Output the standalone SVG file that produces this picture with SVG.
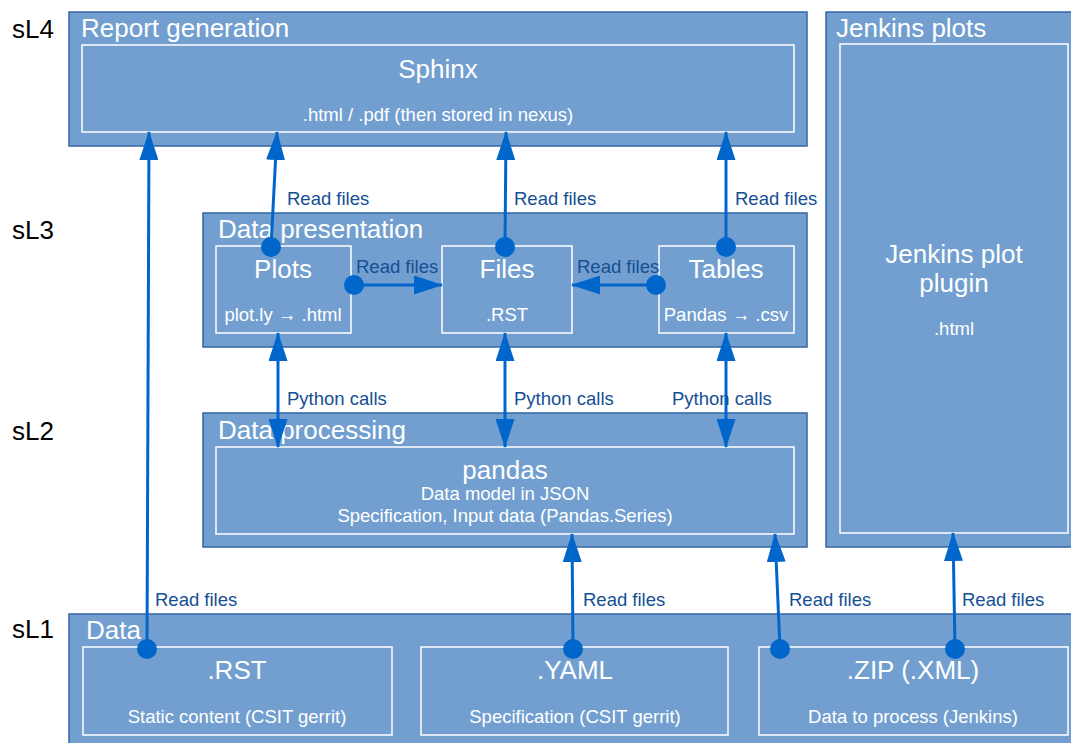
<svg xmlns="http://www.w3.org/2000/svg" width="1071" height="743" viewBox="0 0 1071 743">
<defs>
<style>
.layer{fill:#729fcf;stroke:#3465a4;stroke-width:1.5}
.inner{fill:none;stroke:#ffffff;stroke-width:1.5}
.lt{font-family:"Liberation Sans",Arial,sans-serif;font-size:26px;fill:#ffffff}
.big{font-family:"Liberation Sans",Arial,sans-serif;font-size:26px;fill:#ffffff;text-anchor:middle}
.sm{font-family:"Liberation Sans",Arial,sans-serif;font-size:18.5px;fill:#ffffff;text-anchor:middle}
.side{font-family:"Liberation Sans",Arial,sans-serif;font-size:26px;fill:#000000}
.cl{font-family:"Liberation Sans",Arial,sans-serif;font-size:18.5px;fill:#154f94}
.con{stroke:#0066cc;stroke-width:3;fill:none}
.dot{fill:#0066cc}
</style>
<marker id="ah" markerWidth="29" markerHeight="19" refX="28" refY="9.5" orient="auto" markerUnits="userSpaceOnUse" viewBox="0 0 29 19">
<path d="M0,0 L29,9.5 L0,19 Z" fill="#0066cc"/>
</marker>
<marker id="as" markerWidth="29" markerHeight="19" refX="1" refY="9.5" orient="auto" markerUnits="userSpaceOnUse" viewBox="0 0 29 19">
<path d="M29,0 L0,9.5 L29,19 Z" fill="#0066cc"/>
</marker>
</defs>

<text class="side" x="12" y="38">sL4</text>
<text class="side" x="12" y="239">sL3</text>
<text class="side" x="12" y="440">sL2</text>
<text class="side" x="12" y="638">sL1</text>

<g id="report-generation">
<rect class="layer" x="69" y="12" width="738" height="134"/>
<text class="lt" x="81" y="37">Report generation</text>
</g>
<g id="sphinx">
<rect class="inner" x="82" y="45" width="712" height="87"/>
<text class="big" x="438" y="78">Sphinx</text>
<text class="sm" x="438" y="121">.html / .pdf (then stored in nexus)</text>
</g>

<g id="jenkins-plots">
<rect class="layer" x="826" y="12" width="250" height="535"/>
<text class="lt" x="836" y="37">Jenkins plots</text>
</g>
<g id="jenkins-plot-plugin">
<rect class="inner" x="840" y="44" width="228" height="489"/>
<text class="big" x="954" y="263">Jenkins plot</text>
<text class="big" x="954" y="292">plugin</text>
<text class="sm" x="954" y="335">.html</text>
</g>

<g id="data-presentation">
<rect class="layer" x="203" y="213" width="604" height="134"/>
<text class="lt" x="218" y="238">Data presentation</text>
</g>
<g id="plots">
<rect class="inner" x="216" y="246" width="135" height="87"/>
<text class="big" x="283" y="278">Plots</text>
<text class="sm" x="283" y="321">plot.ly → .html</text>
</g>
<g id="files">
<rect class="inner" x="442" y="246" width="130" height="87"/>
<text class="big" x="507" y="278">Files</text>
<text class="sm" x="507" y="321">.RST</text>
</g>
<g id="tables">
<rect class="inner" x="659" y="246" width="135" height="87"/>
<text class="big" x="726" y="278">Tables</text>
<text class="sm" x="726" y="321">Pandas → .csv</text>
</g>

<g id="data-processing">
<rect class="layer" x="203" y="413" width="604" height="134"/>
<text class="lt" x="218" y="439">Data processing</text>
</g>
<g id="pandas">
<rect class="inner" x="216" y="447" width="578" height="87"/>
<text class="big" x="505" y="479">pandas</text>
<text class="sm" x="505" y="500">Data model in JSON</text>
<text class="sm" x="505" y="522">Specification, Input data (Pandas.Series)</text>
</g>

<g id="data">
<rect class="layer" x="69" y="614" width="1010" height="140"/>
<text class="lt" x="86" y="639">Data</text>
</g>
<g id="data-rst">
<rect class="inner" x="83" y="647" width="309" height="88"/>
<text class="big" x="237" y="679">.RST</text>
<text class="sm" x="237" y="723">Static content (CSIT gerrit)</text>
</g>
<g id="data-yaml">
<rect class="inner" x="421" y="647" width="307" height="88"/>
<text class="big" x="575" y="679">.YAML</text>
<text class="sm" x="575" y="723">Specification (CSIT gerrit)</text>
</g>
<g id="data-zip">
<rect class="inner" x="759" y="647" width="309" height="88"/>
<text class="big" x="913" y="679">.ZIP (.XML)</text>
<text class="sm" x="913" y="723">Data to process (Jenkins)</text>
</g>

<g id="connectors">
<line class="con" x1="147" y1="649" x2="149" y2="132" marker-end="url(#ah)"/>
<circle class="dot" cx="147" cy="649" r="10"/>
<text class="cl" x="155" y="606">Read files</text>

<line class="con" x1="271" y1="247" x2="277" y2="132" marker-end="url(#ah)"/>
<circle class="dot" cx="271" cy="247" r="10"/>
<text class="cl" x="287" y="205">Read files</text>

<line class="con" x1="505" y1="247" x2="506" y2="132" marker-end="url(#ah)"/>
<circle class="dot" cx="505" cy="247" r="10"/>
<text class="cl" x="514" y="205">Read files</text>

<line class="con" x1="726" y1="247" x2="726" y2="132" marker-end="url(#ah)"/>
<circle class="dot" cx="726" cy="247" r="10"/>
<text class="cl" x="735" y="205">Read files</text>

<line class="con" x1="354" y1="285" x2="442" y2="285" marker-end="url(#ah)"/>
<circle class="dot" cx="354" cy="285" r="10"/>
<text class="cl" x="356" y="273">Read files</text>

<line class="con" x1="656" y1="285" x2="572" y2="285" marker-end="url(#ah)"/>
<circle class="dot" cx="656" cy="285" r="10"/>
<text class="cl" x="577" y="273">Read files</text>

<line class="con" x1="278" y1="333" x2="278" y2="447" marker-start="url(#as)" marker-end="url(#ah)"/>
<text class="cl" x="287" y="405">Python calls</text>
<line class="con" x1="505" y1="333" x2="505" y2="447" marker-start="url(#as)" marker-end="url(#ah)"/>
<text class="cl" x="514" y="405">Python calls</text>
<line class="con" x1="726" y1="333" x2="726" y2="447" marker-start="url(#as)" marker-end="url(#ah)"/>
<text class="cl" x="672" y="405">Python calls</text>

<line class="con" x1="573" y1="649" x2="572" y2="534" marker-end="url(#ah)"/>
<circle class="dot" cx="573" cy="649" r="10"/>
<text class="cl" x="583" y="606">Read files</text>

<line class="con" x1="780" y1="649" x2="775" y2="534" marker-end="url(#ah)"/>
<circle class="dot" cx="780" cy="649" r="10"/>
<text class="cl" x="789" y="606">Read files</text>

<line class="con" x1="955" y1="649" x2="953" y2="533" marker-end="url(#ah)"/>
<circle class="dot" cx="955" cy="649" r="10"/>
<text class="cl" x="962" y="606">Read files</text>
</g>
</svg>
